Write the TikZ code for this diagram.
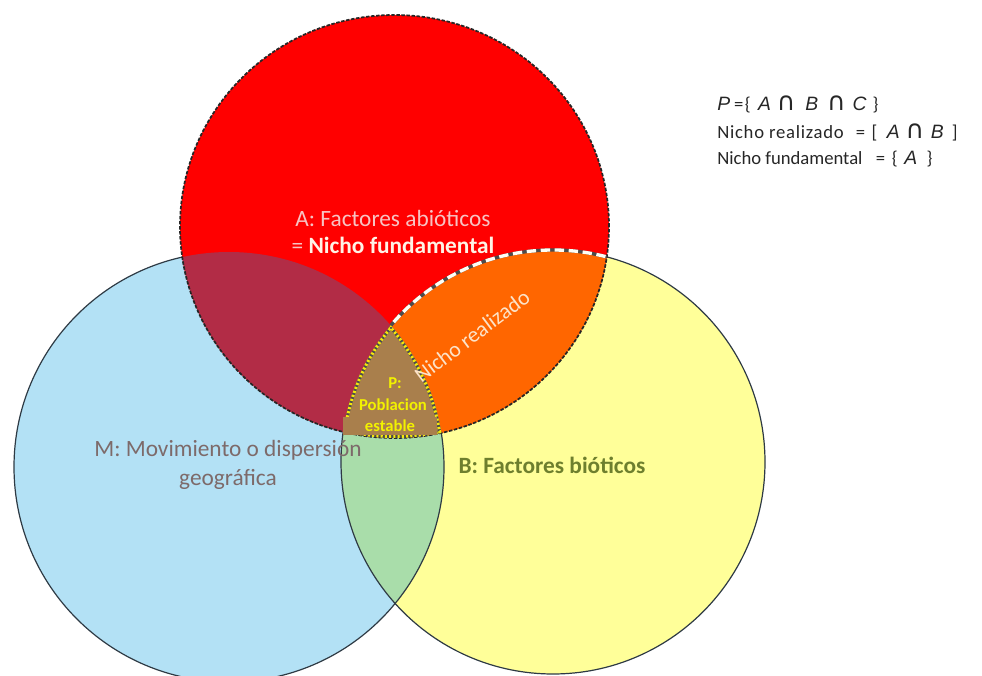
\documentclass[tikz,border=0pt]{standalone}
\usepackage{fontspec}
\setmainfont{Carlito}
\newfontfamily\arialf{Liberation Sans}
\newfontfamily\dvs{DejaVu Sans}
\definecolor{cA}{HTML}{FF0000}
\definecolor{cM}{HTML}{B3E1F5}
\definecolor{cB}{HTML}{FFFF99}
\definecolor{cAM}{HTML}{B22C46}
\definecolor{cAB}{HTML}{FF6600}
\definecolor{cMB}{HTML}{A9DDAA}
\definecolor{cP}{HTML}{A97F4C}
\definecolor{tA}{HTML}{F7C3C3}
\definecolor{tAb}{HTML}{FFF3E6}
\definecolor{tNR}{HTML}{FCE3C9}
\definecolor{tP}{HTML}{F2F200}
\definecolor{tM}{HTML}{7D6A6A}
\definecolor{tB}{HTML}{6E7F2E}
\definecolor{tTR}{HTML}{262626}
\definecolor{bord}{HTML}{2E3A44}
\newcommand{\capsym}{{\dvs\fontsize{19}{20}\selectfont ∩}}
\newcommand{\itl}[1]{{\arialf\itshape\fontsize{14.5}{16}\selectfont #1}}
\tikzset{
  bordthin/.style={draw=bord, line width=0.9pt},
  bordA/.style={draw=black!85, line width=1.3pt, dash pattern=on 2.6pt off 1.2pt},
  whitedash/.style={draw=white!96!yellow, line width=2.5pt, dash pattern=on 7pt off 3.5pt},
  ydots/.style={draw=yellow!95!black, line width=4.4pt, dash pattern=on 1.6pt off 1.6pt},
  darkedge/.style={draw=black!70, line width=4.4pt},
  lab/.style={inner sep=0pt, align=center},
  formula/.style={inner sep=0pt, anchor=west, text=tTR, font=\fontsize{14}{15}\selectfont},
}
\begin{document}
\begin{tikzpicture}[x=0.75pt,y=0.75pt]
\useasboundingbox (0,0) rectangle (982,675);
\def\circA{(394.5,448.5) ellipse [x radius=214.5, y radius=211.5]}
\def\circM{(229,208) circle (215)}
\def\circB{(553,213) circle (212)}
% M and B
\fill[cM] \circM;
\fill[cB] \circB;
\begin{scope}\clip \circM; \fill[cMB] \circB; \end{scope}
\draw[bordthin] \circM;
\draw[bordthin] \circB;
% A and its intersections
\fill[cA] \circA;
\begin{scope}\clip \circA; \fill[cAM] \circM; \fill[cAB] \circB; \end{scope}
\begin{scope}\clip \circA; \clip \circM; \fill[cP] \circB; \end{scope}
\draw[bordA] \circA;
% white dashed top edge of the realized niche
\begin{scope}
  \clip \circA;
  \clip (229,208) circle (215) (-100,-100) -- (-100,800) -- (1100,800) -- (1100,-100) -- cycle;
  \draw[draw=black!70, line width=2.5pt] \circB;
  \draw[whitedash] \circB;
\end{scope}
% dotted yellow border of P
\begin{scope}
  \clip \circA; \clip \circM; \clip \circB;
  \draw[darkedge] \circA; \draw[darkedge] \circM; \draw[darkedge] \circB;
  \draw[ydots] \circA; \draw[ydots] \circM; \draw[ydots] \circB;
\end{scope}
% labels
\node[lab, text=tA, font=\fontsize{17.5}{21}\selectfont] (la1) at (393,457) {A: Factores abióticos};
\node[lab, font=\fontsize{17.5}{21}\selectfont] (la2) at (393,430) {\textcolor{tA}{=} \textcolor{tAb}{\bfseries Nicho fundamental}};
\node[lab, text=tNR, rotate=37, font=\fontsize{16.5}{20}\selectfont] (lnr) at (472,339) {Nicho realizado};
\node[lab, text=tP, font=\bfseries\fontsize{12.5}{14}\selectfont] (lp1) at (395,292) {P:};
\node[lab, text=tP, font=\bfseries\fontsize{12.5}{14}\selectfont] (lp2) at (393,270) {Poblacion};
\node[lab, fill=cP, minimum width=70.5pt, minimum height=13.5pt, text=tP, font=\bfseries\fontsize{12.5}{14}\selectfont] (lp3) at (390,249) {estable};
\node[lab, text=tM, font=\fontsize{17.5}{21}\selectfont] (lm1) at (228,225) {M: Movimiento o dispersión};
\node[lab, text=tM, font=\fontsize{17.5}{21}\selectfont] (lm2) at (228,196) {geográfica};
\node[lab, text=tB, font=\bfseries\fontsize{17.5}{21}\selectfont] (lb) at (552,210) {B: Factores bióticos};
% formulas
\node[formula] (f1) at (717,571)
  {\itl{P}\hspace{3pt}=\hspace{1pt}\{\hspace{5.5pt}\itl{A}\hspace{4.5pt}\capsym\hspace{7.5pt}\itl{B}\hspace{6.5pt}\capsym\hspace{5.3pt}\itl{C}\hspace{4.5pt}\}};
\node[formula] (f2) at (717,543)
  {{\addfontfeature{LetterSpace=4}Nicho realizado}\hspace{9pt}=\hspace{5pt}[\hspace{7pt}\itl{A}\hspace{4.5pt}\capsym\hspace{5pt}\itl{B}\hspace{6pt}]};
\node[formula] (f3) at (717,516)
  {Nicho fundamental\hspace{10pt}=\hspace{5pt}\{\hspace{5pt}\itl{A}\hspace{7pt}\}};
\end{tikzpicture}
\end{document}
